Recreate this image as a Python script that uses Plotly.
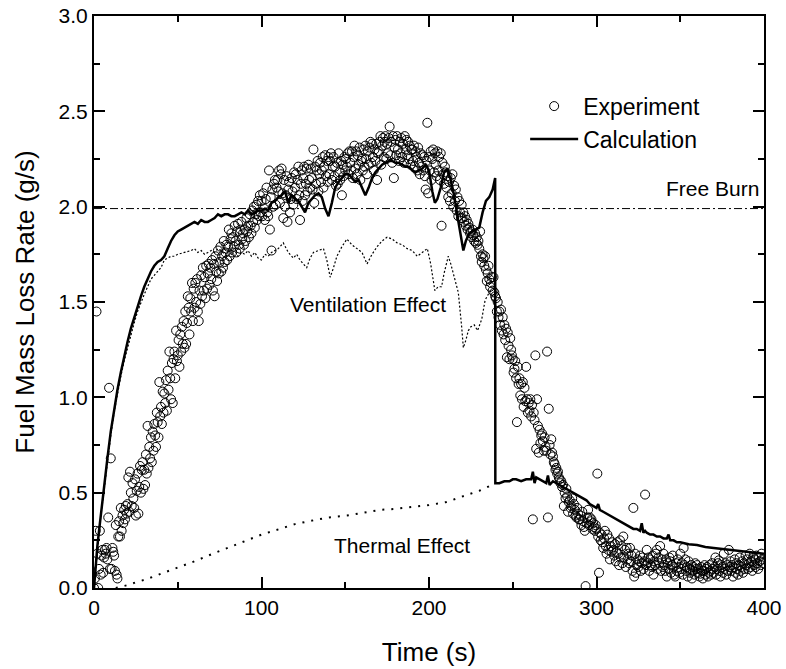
import plotly.graph_objects as go

# ---------------- data ----------------
# Experiment: fuel mass loss rate (g/s), sampled every 0.5 s, one row per 10 s
exp_step = 0.5
exp_rows = [
    [0.00, 0.05, 0.30, 1.45, 0.18, 0.00, 0.10, 0.30, 0.07, 0.17, 0.20, 0.08, 0.16, 0.20, 0.18, 0.21, 0.15, 0.37, 1.05, 0.10],
    [0.68, 0.10, 0.21, 0.19, 0.17, 0.09, 0.33, 0.07, 0.05, 0.27, 0.35, 0.27, 0.42, 0.30, 0.38, 0.34, 0.41, 0.36, 0.43, 0.39],
    [0.44, 0.58, 0.40, 0.61, 0.50, 0.43, 0.55, 0.47, 0.42, 0.57, 0.38, 0.51, 0.60, 0.39, 0.53, 0.64, 0.50, 0.62, 0.66, 0.52],
    [0.62, 0.54, 0.70, 0.60, 0.85, 0.63, 0.74, 0.68, 0.79, 0.66, 0.82, 0.72, 0.86, 0.80, 0.74, 0.92, 0.87, 0.79, 1.08, 0.90],
    [0.95, 0.86, 1.03, 0.92, 1.02, 0.97, 1.09, 0.93, 1.14, 1.04, 1.24, 1.10, 0.99, 1.18, 0.97, 1.20, 1.24, 1.10, 1.35, 1.19],
    [1.22, 1.30, 1.16, 1.33, 1.24, 1.37, 1.28, 1.40, 1.26, 1.45, 1.28, 1.39, 1.53, 1.47, 1.33, 1.52, 1.45, 1.60, 1.40, 1.57],
    [1.47, 1.60, 1.50, 1.62, 1.45, 1.40, 1.56, 1.49, 1.64, 1.53, 1.68, 1.56, 1.63, 1.52, 1.69, 1.57, 1.65, 1.70, 1.59, 1.68],
    [1.62, 1.72, 1.56, 1.70, 1.53, 1.74, 1.66, 1.61, 1.77, 1.65, 1.71, 1.79, 1.66, 1.74, 1.68, 1.82, 1.71, 1.76, 1.80, 1.72],
    [1.79, 1.88, 1.74, 1.83, 1.86, 1.76, 1.84, 1.79, 1.90, 1.82, 1.76, 1.87, 1.91, 1.80, 1.78, 1.88, 1.92, 1.83, 1.86, 1.80],
    [1.88, 1.82, 1.94, 1.87, 1.90, 1.84, 1.96, 1.90, 1.86, 1.98, 1.92, 2.00, 1.89, 1.96, 2.01, 1.93, 2.03, 1.95, 2.06, 1.97],
    [2.03, 1.95, 2.07, 1.99, 1.93, 2.04, 2.10, 1.97, 1.95, 2.19, 1.88, 2.05, 1.77, 2.09, 2.00, 2.12, 2.14, 2.01, 2.10, 2.14],
    [2.08, 2.19, 2.02, 2.17, 2.20, 2.07, 1.94, 2.14, 2.00, 2.06, 2.16, 1.92, 2.09, 2.13, 1.97, 2.04, 2.15, 2.08, 2.01, 2.18],
    [2.10, 2.17, 2.04, 2.14, 2.21, 2.06, 1.93, 2.12, 2.19, 2.03, 2.15, 2.21, 2.06, 2.12, 2.20, 2.08, 2.22, 2.14, 2.10, 2.20],
    [2.15, 2.09, 2.30, 2.02, 2.21, 2.12, 2.19, 2.24, 2.08, 2.17, 2.23, 2.13, 2.19, 2.26, 2.10, 2.21, 2.27, 2.16, 2.24, 2.13],
    [2.26, 2.17, 2.24, 2.28, 2.14, 2.21, 2.26, 2.16, 2.21, 2.11, 2.23, 2.12, 2.28, 2.18, 2.14, 2.24, 2.06, 2.22, 2.16, 2.26],
    [2.19, 2.25, 2.21, 2.28, 2.17, 2.29, 2.23, 2.19, 2.29, 2.15, 2.26, 2.32, 2.20, 2.29, 2.17, 2.27, 2.22, 2.31, 2.14, 2.24],
    [2.25, 2.19, 2.30, 2.21, 2.32, 2.25, 2.17, 2.29, 2.22, 2.31, 2.34, 2.23, 2.33, 2.26, 2.19, 2.30, 2.24, 2.33, 2.14, 2.28],
    [2.29, 2.34, 2.37, 2.22, 2.32, 2.36, 2.26, 2.34, 2.37, 2.25, 2.33, 2.28, 2.36, 2.42, 2.27, 2.34, 2.23, 2.37, 2.15, 2.31],
    [2.35, 2.27, 2.37, 2.30, 2.24, 2.34, 2.28, 2.36, 2.26, 2.33, 2.23, 2.37, 2.30, 2.35, 2.27, 2.34, 2.25, 2.32, 2.22, 2.30],
    [2.30, 2.24, 2.32, 2.21, 2.29, 2.26, 2.19, 2.31, 2.23, 2.17, 2.28, 2.21, 2.27, 2.19, 2.26, 2.16, 2.09, 2.24, 2.44, 2.07],
    [2.26, 2.19, 2.29, 2.14, 2.25, 2.30, 2.18, 2.28, 2.22, 2.16, 2.29, 2.19, 2.26, 2.14, 2.28, 1.90, 2.23, 2.17, 2.12, 2.21],
    [2.18, 2.10, 2.16, 2.05, 2.13, 2.03, 2.15, 2.07, 2.17, 2.00, 2.11, 2.03, 2.09, 1.98, 2.05, 1.95, 2.03, 1.97, 1.94, 2.01],
    [1.94, 1.97, 1.92, 1.95, 1.90, 1.93, 1.88, 1.91, 1.89, 1.86, 1.87, 1.84, 1.88, 1.85, 1.82, 1.86, 1.81, 1.84, 1.80, 1.82],
    [1.78, 1.87, 1.74, 1.71, 1.75, 1.73, 1.69, 1.74, 1.67, 1.61, 1.65, 1.69, 1.62, 1.58, 1.60, 1.63, 1.56, 1.63, 1.55, 1.53],
    [1.52, 1.45, 1.50, 1.42, 1.45, 1.38, 1.46, 1.35, 1.42, 1.33, 1.38, 1.30, 1.36, 1.21, 1.34, 1.27, 1.20, 1.31, 1.25, 1.22],
    [1.20, 1.13, 1.15, 1.19, 1.10, 0.87, 1.16, 1.07, 1.10, 1.01, 1.07, 0.99, 1.08, 0.95, 1.05, 0.98, 1.16, 0.99, 0.92, 0.97],
    [0.93, 0.99, 0.90, 0.96, 0.36, 0.92, 0.88, 1.22, 0.73, 0.99, 0.85, 0.71, 0.83, 0.76, 0.80, 0.81, 0.77, 0.72, 0.79, 0.74],
    [0.72, 1.24, 0.37, 0.94, 0.75, 0.70, 0.78, 0.71, 0.69, 0.66, 0.65, 0.62, 0.63, 0.60, 0.61, 0.58, 0.57, 0.55, 0.56, 0.53],
    [0.54, 0.43, 0.50, 0.47, 0.52, 0.48, 0.40, 0.45, 0.46, 0.42, 0.43, 0.47, 0.39, 0.44, 0.41, 0.38, 0.37, 0.42, 0.39, 0.36],
    [0.36, 0.38, 0.33, 0.40, 0.35, 0.32, 0.30, 0.01, 0.34, 0.37, 0.41, 0.33, 0.37, 0.35, 0.36, 0.31, 0.34, 0.32, 0.30, 0.33],
    [0.31, 0.60, 0.27, 0.08, 0.29, 0.25, 0.28, 0.24, 0.21, 0.26, 0.30, 0.22, 0.18, 0.28, 0.20, 0.26, 0.15, 0.22, 0.19, 0.24],
    [0.20, 0.17, 0.23, 0.14, 0.19, 0.24, 0.18, 0.12, 0.25, 0.16, 0.22, 0.13, 0.27, 0.16, 0.20, 0.11, 0.21, 0.15, 0.18, 0.13],
    [0.21, 0.14, 0.17, 0.09, 0.42, 0.06, 0.18, 0.08, 0.12, 0.15, 0.11, 0.14, 0.17, 0.09, 0.13, 0.16, 0.10, 0.14, 0.49, 0.12],
    [0.20, 0.13, 0.16, 0.09, 0.15, 0.12, 0.11, 0.17, 0.07, 0.14, 0.12, 0.18, 0.20, 0.10, 0.16, 0.13, 0.22, 0.09, 0.15, 0.11],
    [0.18, 0.12, 0.09, 0.15, 0.06, 0.13, 0.10, 0.16, 0.14, 0.08, 0.12, 0.17, 0.11, 0.07, 0.06, 0.13, 0.09, 0.15, 0.11, 0.08],
    [0.18, 0.10, 0.13, 0.07, 0.21, 0.12, 0.15, 0.09, 0.11, 0.06, 0.14, 0.10, 0.08, 0.12, 0.05, 0.09, 0.11, 0.07, 0.13, 0.10],
    [0.12, 0.08, 0.10, 0.06, 0.075, 0.11, 0.09, 0.05, 0.09, 0.12, 0.07, 0.10, 0.11, 0.06, 0.08, 0.12, 0.09, 0.07, 0.13, 0.10],
    [0.08, 0.11, 0.16, 0.07, 0.10, 0.13, 0.145, 0.09, 0.06, 0.12, 0.11, 0.08, 0.18, 0.10, 0.13, 0.07, 0.12, 0.09, 0.20, 0.11],
    [0.14, 0.09, 0.12, 0.06, 0.11, 0.15, 0.08, 0.13, 0.10, 0.07, 0.12, 0.16, 0.09, 0.11, 0.14, 0.08, 0.13, 0.10, 0.17, 0.12],
    [0.15, 0.10, 0.13, 0.18, 0.11, 0.14, 0.09, 0.16, 0.12, 0.15, 0.11, 0.17, 0.13, 0.10, 0.16, 0.14, 0.12, 0.18, 0.15, 0.13],
]

# Calculation (solid line)
calc_time = [0, 1, 2, 3, 4, 5, 6, 8, 10, 12, 14, 16, 18, 20, 22, 24, 26, 28, 30, 32, 34, 36, 38, 40,
             42, 44, 46, 48, 50, 52, 54, 56, 58, 60, 62, 64, 66, 68, 70, 72, 74, 76, 78, 80, 82, 84,
             86, 88, 90, 92, 94, 96, 98, 100, 102, 104, 106, 108, 110, 112, 114, 116, 118, 120, 122,
             124, 126, 128, 130, 132, 134, 136, 138, 140, 142, 144, 146, 148, 150, 152, 154, 156, 158,
             160, 162, 164, 166, 168, 170, 172, 174, 176, 178, 180, 182, 184, 186, 188, 190, 192, 194,
             196, 198, 200, 202, 203.5, 205, 207, 209, 211, 213, 215, 217, 219, 220.5, 222, 224, 226,
             228, 230, 232, 234, 236, 238, 239.5, 239.6, 242, 245, 248, 250, 252, 255, 258, 261, 262,
             263, 264, 266, 268, 270, 271, 272, 274, 276, 278, 280, 282, 284, 286, 288, 290, 292, 294,
             296, 298, 300, 301, 302, 304, 306, 308, 310, 312, 314, 316, 318, 320, 322, 324, 326, 327,
             328, 329, 330, 332, 334, 336, 338, 340, 342, 343, 344, 346, 348, 350, 355, 360, 365, 370,
             375, 380, 385, 390, 395, 400]
calc_rate = [0, 0.12, 0.22, 0.30, 0.38, 0.45, 0.52, 0.68, 0.82, 0.94, 1.04, 1.13, 1.22, 1.29, 1.36, 1.42,
             1.48, 1.53, 1.58, 1.62, 1.66, 1.69, 1.71, 1.72, 1.74, 1.78, 1.82, 1.85, 1.87, 1.88, 1.89,
             1.90, 1.91, 1.92, 1.91, 1.93, 1.92, 1.92, 1.93, 1.94, 1.96, 1.95, 1.96, 1.96, 1.95, 1.95,
             1.96, 1.97, 1.96, 1.98, 1.96, 1.97, 1.98, 1.98, 1.99, 1.98, 2.02, 2.03, 2.05, 2.06, 2.08,
             2.02, 2.06, 2.04, 2.03, 2.00, 1.97, 2.02, 2.04, 2.06, 2.07, 2.05, 1.99, 1.95, 2.02, 2.10,
             2.13, 2.15, 2.17, 2.17, 2.15, 2.13, 2.14, 2.10, 2.06, 2.10, 2.15, 2.18, 2.20, 2.22, 2.23,
             2.24, 2.24, 2.23, 2.23, 2.22, 2.21, 2.21, 2.19, 2.18, 2.19, 2.20, 2.22, 2.19, 2.08, 2.02,
             2.04, 2.10, 2.18, 2.20, 2.14, 2.06, 1.95, 1.85, 1.77, 1.82, 1.86, 1.87, 1.88, 1.89, 1.97,
             2.03, 2.05, 2.09, 2.15, 0.55, 0.55, 0.56, 0.56, 0.57, 0.57, 0.56, 0.57, 0.57, 0.61, 0.55,
             0.58, 0.57, 0.56, 0.55, 0.59, 0.54, 0.56, 0.55, 0.54, 0.53, 0.52, 0.51, 0.50, 0.49, 0.48,
             0.47, 0.46, 0.44, 0.43, 0.42, 0.44, 0.41, 0.40, 0.39, 0.38, 0.37, 0.36, 0.35, 0.34, 0.33,
             0.32, 0.31, 0.31, 0.30, 0.34, 0.29, 0.30, 0.29, 0.28, 0.28, 0.27, 0.27, 0.26, 0.26, 0.28,
             0.25, 0.25, 0.24, 0.24, 0.23, 0.225, 0.215, 0.21, 0.205, 0.20, 0.195, 0.19, 0.185, 0.18]

# Ventilation effect (fine dotted line)
vent_time = [0, 2, 4, 6, 8, 10, 12, 14, 16, 18, 20, 22, 24, 26, 28, 30, 32, 34, 36, 38, 40, 42, 44,
             46, 48, 50, 54, 58, 60, 62, 64, 66, 68, 70, 72, 74, 76, 78, 80, 82, 84, 86, 88, 90, 92,
             94, 96, 98, 100, 102, 104, 106, 108, 110, 113, 116, 119, 121, 123, 127, 129, 131, 134,
             137, 139, 141, 143, 145, 148, 151, 154, 157, 160, 163, 166, 169, 172, 175, 178, 181, 184,
             187, 190, 193, 196, 199, 201, 203.5, 205.5, 207.5, 209, 211.5, 213, 215.5, 217.5, 219.5,
             220.5, 222, 223.5, 225, 227, 229, 231.5, 233.5, 236, 239.4]
vent_rate = [0, 0.20, 0.37, 0.51, 0.66, 0.80, 0.92, 1.02, 1.11, 1.19, 1.26, 1.33, 1.39, 1.45, 1.50,
             1.54, 1.58, 1.62, 1.64, 1.66, 1.68, 1.72, 1.73, 1.74, 1.74, 1.75, 1.76, 1.77, 1.78, 1.76,
             1.77, 1.75, 1.76, 1.77, 1.76, 1.78, 1.77, 1.75, 1.77, 1.75, 1.77, 1.74, 1.76, 1.75, 1.77,
             1.74, 1.76, 1.73, 1.72, 1.75, 1.74, 1.76, 1.77, 1.78, 1.81, 1.76, 1.73, 1.75, 1.72, 1.68,
             1.73, 1.76, 1.77, 1.78, 1.72, 1.63, 1.68, 1.74, 1.79, 1.83, 1.80, 1.78, 1.76, 1.70, 1.75,
             1.79, 1.82, 1.84, 1.83, 1.81, 1.80, 1.78, 1.77, 1.74, 1.76, 1.78, 1.70, 1.56, 1.58, 1.58,
             1.65, 1.74, 1.70, 1.62, 1.55, 1.37, 1.26, 1.30, 1.35, 1.37, 1.38, 1.35, 1.41, 1.51, 1.55,
             1.58]

# Thermal effect (coarse dotted line)
therm_time = [13, 20, 25, 31, 40, 51, 60, 71, 80, 91, 100, 111, 120, 131, 140, 151, 160, 171, 180,
              190, 200, 210, 222, 230, 239.6]
therm_rate = [0, 0.015, 0.03, 0.045, 0.075, 0.11, 0.14, 0.18, 0.21, 0.25, 0.28, 0.31, 0.335, 0.355,
              0.37, 0.38, 0.395, 0.41, 0.415, 0.425, 0.435, 0.45, 0.487, 0.51, 0.548]

# Free burn reference level
free_time = [0, 400]
free_rate = [1.99, 1.99]

x_ticks = [0, 100, 200, 300, 400]
y_ticks = [0.0, 0.5, 1.0, 1.5, 2.0, 2.5, 3.0]

# ---------------- build ----------------
exp_time, exp_rate = [], []
for i, row in enumerate(exp_rows):
    for j, v in enumerate(row):
        exp_time.append(10 * i + exp_step * j)
        exp_rate.append(v)

FONT = "Liberation Sans, Arial, sans-serif"

fig = go.Figure()
fig.add_trace(go.Scatter(x=free_time, y=free_rate, mode="lines", showlegend=False,
                         line=dict(color="black", width=1, dash="8px,3px,2px,3px")))
fig.add_trace(go.Scatter(x=vent_time, y=vent_rate, mode="lines", showlegend=False,
                         line=dict(color="black", width=1.2, dash="2px,2px")))
fig.add_trace(go.Scatter(x=therm_time, y=therm_rate, mode="lines", showlegend=False,
                         line=dict(color="black", width=2, dash="2px,7px")))
fig.add_trace(go.Scatter(x=exp_time, y=exp_rate, mode="markers", name="Experiment",
                         marker=dict(symbol="circle-open", size=9, color="black",
                                     line=dict(width=1, color="black"))))
fig.add_trace(go.Scatter(x=calc_time, y=calc_rate, mode="lines", name="Calculation",
                         line=dict(color="black", width=2.5)))

for txt, x, y in [("Ventilation Effect", 163.3, 1.485), ("Free Burn", 369.5, 2.095),
                  ("Thermal Effect", 184, 0.222)]:
    fig.add_annotation(x=x, y=y, text=txt, showarrow=False,
                       font=dict(family=FONT, size=21, color="black"))

axis_common = dict(showline=True, linecolor="black", linewidth=2, mirror="allticks",
                   ticks="inside", tickcolor="black", tickwidth=2, ticklen=11,
                   showgrid=False, zeroline=False, automargin=False,
                   tickfont=dict(family=FONT, size=21, color="black"))

fig.update_xaxes(range=[0, 400], tickvals=x_ticks, ticktext=[str(v) for v in x_ticks],
                 minor=dict(dtick=50, ticks="inside", ticklen=6, tickcolor="black", tickwidth=2),
                 title=dict(text="Time (s)", font=dict(family=FONT, size=26, color="black"),
                            standoff=25),
                 **axis_common)
fig.update_yaxes(range=[0, 3.0], tickvals=y_ticks, ticktext=[f"{v:.1f}" for v in y_ticks],
                 minor=dict(dtick=0.25, ticks="inside", ticklen=6, tickcolor="black", tickwidth=2),
                 title=dict(text="Fuel Mass Loss Rate (g/s)",
                            font=dict(family=FONT, size=26, color="black"), standoff=16),
                 **axis_common)

fig.update_layout(
    width=786, height=669,
    margin=dict(l=94, r=22, t=16, b=81),
    plot_bgcolor="white", paper_bgcolor="white",
    font=dict(family=FONT, color="black"),
    legend=dict(x=0.6435, y=0.880, xanchor="left", yanchor="top",
                bgcolor="rgba(0,0,0,0)", itemwidth=48,
                font=dict(family=FONT, size=23, color="black")),
)

fig.write_html("out.html")
